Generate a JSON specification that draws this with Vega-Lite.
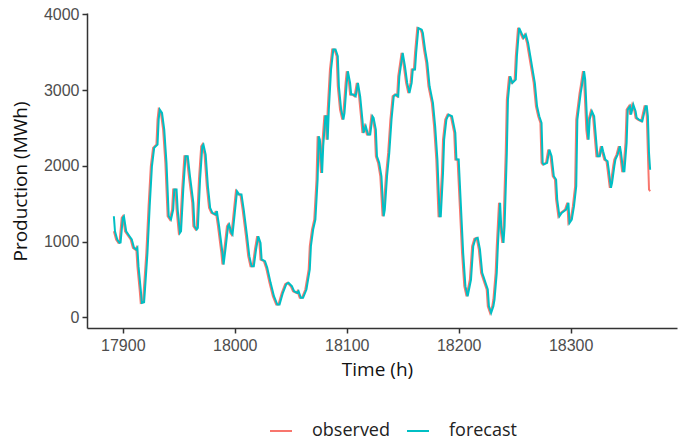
{
  "$schema": "https://vega.github.io/schema/vega-lite/v6.json",
  "width": 590,
  "height": 315,
  "autosize": {"type": "none"},
  "padding": {"left": 87, "top": 13, "right": 4, "bottom": 117},
  "background": "white",
  "config": {
    "view": {"stroke": null},
    "axis": {
      "grid": false,
      "domainColor": "#333333",
      "domainWidth": 1.5,
      "tickColor": "#333333",
      "tickWidth": 1.5,
      "tickSize": 5,
      "labelColor": "#4d4d4d",
      "labelFont": "Liberation Sans",
      "labelFontSize": 16,
      "titleFont": "Open Sans",
      "titleFontSize": 19,
      "titleFontWeight": "normal",
      "titleColor": "#111111"
    }
  },
  "datasets": {
    "obs": [
      {"h":17892,"v":1138},{"h":17894,"v":1029},{"h":17896,"v":985},{"h":17897,"v":990},{"h":17899,"v":1315},{"h":17900,"v":1336},{"h":17902,"v":1138},{"h":17905,"v":1072},{"h":17907,"v":1029},{"h":17909,"v":919},{"h":17911,"v":897},{"h":17912,"v":919},{"h":17913,"v":677},{"h":17915,"v":369},{"h":17916,"v":193},{"h":17918,"v":202},{"h":17919,"v":413},{"h":17921,"v":853},{"h":17923,"v":1469},{"h":17925,"v":1996},{"h":17927,"v":2239},{"h":17930,"v":2282},{"h":17931,"v":2612},{"h":17932,"v":2744},{"h":17934,"v":2700},{"h":17936,"v":2480},{"h":17938,"v":2041},{"h":17940,"v":1336},{"h":17942,"v":1293},{"h":17944,"v":1425},{"h":17945,"v":1689},{"h":17947,"v":1689},{"h":17948,"v":1425},{"h":17950,"v":1117},{"h":17951,"v":1138},{"h":17953,"v":1689},{"h":17955,"v":2128},{"h":17957,"v":2128},{"h":17959,"v":1864},{"h":17962,"v":1513},{"h":17963,"v":1204},{"h":17965,"v":1161},{"h":17966,"v":1183},{"h":17968,"v":1821},{"h":17970,"v":2260},{"h":17971,"v":2282},{"h":17973,"v":2150},{"h":17975,"v":1732},{"h":17977,"v":1447},{"h":17979,"v":1381},{"h":17982,"v":1359},{"h":17983,"v":1403},{"h":17985,"v":1204},{"h":17988,"v":853},{"h":17989,"v":699},{"h":17991,"v":941},{"h":17993,"v":1204},{"h":17994,"v":1227},{"h":17996,"v":1117},{"h":17997,"v":1095},{"h":17999,"v":1381},{"h":18001,"v":1666},{"h":18002,"v":1645},{"h":18003,"v":1623},{"h":18005,"v":1623},{"h":18007,"v":1425},{"h":18010,"v":1072},{"h":18012,"v":809},{"h":18014,"v":677},{"h":18016,"v":677},{"h":18018,"v":897},{"h":18020,"v":1072},{"h":18022,"v":985},{"h":18023,"v":765},{"h":18026,"v":743},{"h":18028,"v":655},{"h":18031,"v":457},{"h":18034,"v":281},{"h":18037,"v":171},{"h":18039,"v":171},{"h":18042,"v":325},{"h":18045,"v":440},{"h":18047,"v":457},{"h":18050,"v":413},{"h":18052,"v":347},{"h":18055,"v":325},{"h":18056,"v":347},{"h":18058,"v":259},{"h":18060,"v":259},{"h":18063,"v":369},{"h":18066,"v":633},{"h":18067,"v":941},{"h":18069,"v":1161},{"h":18071,"v":1293},{"h":18073,"v":1821},{"h":18074,"v":2392},{"h":18075,"v":2348},{"h":18077,"v":1909},{"h":18078,"v":2260},{"h":18080,"v":2656},{"h":18081,"v":2656},{"h":18082,"v":2348},{"h":18083,"v":2744},{"h":18085,"v":3272},{"h":18087,"v":3536},{"h":18089,"v":3536},{"h":18091,"v":3448},{"h":18092,"v":3052},{"h":18094,"v":2744},{"h":18096,"v":2612},{"h":18097,"v":2700},{"h":18099,"v":3096},{"h":18100,"v":3250},{"h":18102,"v":3096},{"h":18103,"v":2942},{"h":18105,"v":2942},{"h":18107,"v":2920},{"h":18109,"v":3096},{"h":18111,"v":2920},{"h":18113,"v":2612},{"h":18114,"v":2436},{"h":18116,"v":2524},{"h":18118,"v":2414},{"h":18120,"v":2414},{"h":18122,"v":2656},{"h":18123,"v":2634},{"h":18125,"v":2480},{"h":18126,"v":2128},{"h":18128,"v":2041},{"h":18130,"v":1864},{"h":18132,"v":1336},{"h":18133,"v":1425},{"h":18135,"v":1864},{"h":18137,"v":2172},{"h":18139,"v":2612},{"h":18141,"v":2920},{"h":18143,"v":2942},{"h":18145,"v":2920},{"h":18146,"v":3184},{"h":18149,"v":3492},{"h":18151,"v":3316},{"h":18153,"v":3096},{"h":18155,"v":2964},{"h":18157,"v":3096},{"h":18158,"v":3272},{"h":18160,"v":3272},{"h":18161,"v":3492},{"h":18163,"v":3822},{"h":18166,"v":3800},{"h":18167,"v":3756},{"h":18169,"v":3536},{"h":18171,"v":3360},{"h":18173,"v":3052},{"h":18176,"v":2832},{"h":18178,"v":2524},{"h":18180,"v":2084},{"h":18182,"v":1336},{"h":18183,"v":1336},{"h":18185,"v":1909},{"h":18186,"v":2348},{"h":18188,"v":2612},{"h":18190,"v":2678},{"h":18193,"v":2656},{"h":18196,"v":2436},{"h":18197,"v":2084},{"h":18199,"v":2084},{"h":18201,"v":1469},{"h":18203,"v":853},{"h":18205,"v":413},{"h":18207,"v":281},{"h":18210,"v":501},{"h":18212,"v":941},{"h":18214,"v":1040},{"h":18216,"v":1051},{"h":18218,"v":897},{"h":18220,"v":589},{"h":18221,"v":545},{"h":18223,"v":457},{"h":18225,"v":369},{"h":18226,"v":149},{"h":18228,"v":62},{"h":18230,"v":149},{"h":18231,"v":237},{"h":18233,"v":589},{"h":18234,"v":941},{"h":18236,"v":1513},{"h":18237,"v":1204},{"h":18239,"v":985},{"h":18240,"v":1204},{"h":18242,"v":2172},{"h":18243,"v":2876},{"h":18245,"v":3184},{"h":18247,"v":3096},{"h":18250,"v":3140},{"h":18251,"v":3448},{"h":18253,"v":3822},{"h":18255,"v":3756},{"h":18257,"v":3690},{"h":18259,"v":3734},{"h":18261,"v":3624},{"h":18263,"v":3448},{"h":18265,"v":3272},{"h":18267,"v":3096},{"h":18269,"v":2788},{"h":18271,"v":2656},{"h":18273,"v":2568},{"h":18274,"v":2041},{"h":18275,"v":2019},{"h":18278,"v":2041},{"h":18280,"v":2216},{"h":18282,"v":2128},{"h":18284,"v":1864},{"h":18286,"v":1821},{"h":18287,"v":1557},{"h":18289,"v":1336},{"h":18291,"v":1381},{"h":18293,"v":1403},{"h":18295,"v":1425},{"h":18297,"v":1513},{"h":18298,"v":1249},{"h":18300,"v":1293},{"h":18302,"v":1469},{"h":18304,"v":1732},{"h":18305,"v":2612},{"h":18308,"v":2964},{"h":18309,"v":3052},{"h":18311,"v":3250},{"h":18312,"v":3140},{"h":18314,"v":2480},{"h":18315,"v":2348},{"h":18316,"v":2612},{"h":18318,"v":2722},{"h":18320,"v":2656},{"h":18321,"v":2480},{"h":18323,"v":2128},{"h":18325,"v":2128},{"h":18327,"v":2260},{"h":18328,"v":2194},{"h":18330,"v":2084},{"h":18332,"v":2062},{"h":18333,"v":1953},{"h":18335,"v":1711},{"h":18336,"v":1777},{"h":18338,"v":1996},{"h":18339,"v":2084},{"h":18341,"v":2150},{"h":18343,"v":2260},{"h":18344,"v":2172},{"h":18346,"v":1930},{"h":18347,"v":1930},{"h":18349,"v":2304},{"h":18350,"v":2744},{"h":18352,"v":2788},{"h":18353,"v":2678},{"h":18355,"v":2810},{"h":18357,"v":2722},{"h":18358,"v":2634},{"h":18360,"v":2612},{"h":18363,"v":2590},{"h":18366,"v":2788},{"h":18367,"v":2788},{"h":18368,"v":2656},{"h":18369,"v":2172},{"h":18370,"v":1689},{"h":18371,"v":1666}
    ],
    "fc": [
      {"h":17892,"v":1336},{"h":17893,"v":1138},{"h":17895,"v":1029},{"h":17897,"v":985},{"h":17898,"v":990},{"h":17900,"v":1315},{"h":17901,"v":1336},{"h":17903,"v":1138},{"h":17906,"v":1072},{"h":17908,"v":1029},{"h":17910,"v":919},{"h":17912,"v":897},{"h":17913,"v":919},{"h":17914,"v":677},{"h":17916,"v":369},{"h":17917,"v":193},{"h":17919,"v":202},{"h":17920,"v":413},{"h":17922,"v":853},{"h":17924,"v":1469},{"h":17926,"v":1996},{"h":17928,"v":2239},{"h":17931,"v":2282},{"h":17932,"v":2612},{"h":17933,"v":2744},{"h":17935,"v":2700},{"h":17937,"v":2480},{"h":17939,"v":2041},{"h":17941,"v":1336},{"h":17943,"v":1293},{"h":17945,"v":1425},{"h":17946,"v":1689},{"h":17948,"v":1689},{"h":17949,"v":1425},{"h":17951,"v":1117},{"h":17952,"v":1138},{"h":17954,"v":1689},{"h":17956,"v":2128},{"h":17958,"v":2128},{"h":17960,"v":1864},{"h":17963,"v":1513},{"h":17964,"v":1204},{"h":17966,"v":1161},{"h":17967,"v":1183},{"h":17969,"v":1821},{"h":17971,"v":2260},{"h":17972,"v":2282},{"h":17974,"v":2150},{"h":17976,"v":1732},{"h":17978,"v":1447},{"h":17980,"v":1381},{"h":17983,"v":1359},{"h":17984,"v":1403},{"h":17986,"v":1204},{"h":17989,"v":853},{"h":17990,"v":699},{"h":17992,"v":941},{"h":17994,"v":1204},{"h":17995,"v":1227},{"h":17997,"v":1117},{"h":17998,"v":1095},{"h":18000,"v":1381},{"h":18002,"v":1666},{"h":18003,"v":1645},{"h":18004,"v":1623},{"h":18006,"v":1623},{"h":18008,"v":1425},{"h":18011,"v":1072},{"h":18013,"v":809},{"h":18015,"v":677},{"h":18017,"v":677},{"h":18019,"v":897},{"h":18021,"v":1072},{"h":18023,"v":985},{"h":18024,"v":765},{"h":18027,"v":743},{"h":18029,"v":655},{"h":18032,"v":457},{"h":18035,"v":281},{"h":18038,"v":171},{"h":18040,"v":171},{"h":18043,"v":325},{"h":18046,"v":440},{"h":18048,"v":457},{"h":18051,"v":413},{"h":18053,"v":347},{"h":18056,"v":325},{"h":18057,"v":347},{"h":18059,"v":259},{"h":18061,"v":259},{"h":18064,"v":369},{"h":18067,"v":633},{"h":18068,"v":941},{"h":18070,"v":1161},{"h":18072,"v":1293},{"h":18074,"v":1821},{"h":18075,"v":2392},{"h":18076,"v":2348},{"h":18078,"v":1909},{"h":18079,"v":2260},{"h":18081,"v":2656},{"h":18082,"v":2656},{"h":18083,"v":2348},{"h":18084,"v":2744},{"h":18086,"v":3272},{"h":18088,"v":3536},{"h":18090,"v":3536},{"h":18092,"v":3448},{"h":18093,"v":3052},{"h":18095,"v":2744},{"h":18097,"v":2612},{"h":18098,"v":2700},{"h":18100,"v":3096},{"h":18101,"v":3250},{"h":18103,"v":3096},{"h":18104,"v":2942},{"h":18106,"v":2942},{"h":18108,"v":2920},{"h":18110,"v":3096},{"h":18112,"v":2920},{"h":18114,"v":2612},{"h":18115,"v":2436},{"h":18117,"v":2524},{"h":18119,"v":2414},{"h":18121,"v":2414},{"h":18123,"v":2656},{"h":18124,"v":2634},{"h":18126,"v":2480},{"h":18127,"v":2128},{"h":18129,"v":2041},{"h":18131,"v":1864},{"h":18133,"v":1336},{"h":18134,"v":1425},{"h":18136,"v":1864},{"h":18138,"v":2172},{"h":18140,"v":2612},{"h":18142,"v":2920},{"h":18144,"v":2942},{"h":18146,"v":2920},{"h":18147,"v":3184},{"h":18150,"v":3492},{"h":18152,"v":3316},{"h":18154,"v":3096},{"h":18156,"v":2964},{"h":18158,"v":3096},{"h":18159,"v":3272},{"h":18161,"v":3272},{"h":18162,"v":3492},{"h":18164,"v":3822},{"h":18167,"v":3800},{"h":18168,"v":3756},{"h":18170,"v":3536},{"h":18172,"v":3360},{"h":18174,"v":3052},{"h":18177,"v":2832},{"h":18179,"v":2524},{"h":18181,"v":2084},{"h":18183,"v":1336},{"h":18184,"v":1336},{"h":18186,"v":1909},{"h":18187,"v":2348},{"h":18189,"v":2612},{"h":18191,"v":2678},{"h":18194,"v":2656},{"h":18197,"v":2436},{"h":18198,"v":2084},{"h":18200,"v":2084},{"h":18202,"v":1469},{"h":18204,"v":853},{"h":18206,"v":413},{"h":18208,"v":281},{"h":18211,"v":501},{"h":18213,"v":941},{"h":18215,"v":1040},{"h":18217,"v":1051},{"h":18219,"v":897},{"h":18221,"v":589},{"h":18222,"v":545},{"h":18224,"v":457},{"h":18226,"v":369},{"h":18227,"v":149},{"h":18229,"v":62},{"h":18231,"v":149},{"h":18232,"v":237},{"h":18234,"v":589},{"h":18235,"v":941},{"h":18237,"v":1513},{"h":18238,"v":1204},{"h":18240,"v":985},{"h":18241,"v":1204},{"h":18243,"v":2172},{"h":18244,"v":2876},{"h":18246,"v":3184},{"h":18248,"v":3096},{"h":18251,"v":3140},{"h":18252,"v":3448},{"h":18254,"v":3822},{"h":18256,"v":3756},{"h":18258,"v":3690},{"h":18260,"v":3734},{"h":18262,"v":3624},{"h":18264,"v":3448},{"h":18266,"v":3272},{"h":18268,"v":3096},{"h":18270,"v":2788},{"h":18272,"v":2656},{"h":18274,"v":2568},{"h":18275,"v":2041},{"h":18276,"v":2019},{"h":18279,"v":2041},{"h":18281,"v":2216},{"h":18283,"v":2128},{"h":18285,"v":1864},{"h":18287,"v":1821},{"h":18288,"v":1557},{"h":18290,"v":1336},{"h":18292,"v":1381},{"h":18294,"v":1403},{"h":18296,"v":1425},{"h":18298,"v":1513},{"h":18299,"v":1249},{"h":18301,"v":1293},{"h":18303,"v":1469},{"h":18305,"v":1732},{"h":18306,"v":2612},{"h":18309,"v":2964},{"h":18310,"v":3052},{"h":18312,"v":3250},{"h":18313,"v":3140},{"h":18315,"v":2480},{"h":18316,"v":2348},{"h":18317,"v":2612},{"h":18319,"v":2722},{"h":18321,"v":2656},{"h":18322,"v":2480},{"h":18324,"v":2128},{"h":18326,"v":2128},{"h":18328,"v":2260},{"h":18329,"v":2194},{"h":18331,"v":2084},{"h":18333,"v":2062},{"h":18334,"v":1953},{"h":18336,"v":1711},{"h":18337,"v":1777},{"h":18339,"v":1996},{"h":18340,"v":2084},{"h":18342,"v":2150},{"h":18344,"v":2260},{"h":18345,"v":2172},{"h":18347,"v":1930},{"h":18348,"v":1930},{"h":18350,"v":2304},{"h":18351,"v":2744},{"h":18353,"v":2788},{"h":18354,"v":2678},{"h":18356,"v":2810},{"h":18358,"v":2722},{"h":18359,"v":2634},{"h":18361,"v":2612},{"h":18364,"v":2590},{"h":18367,"v":2788},{"h":18368,"v":2788},{"h":18369,"v":2656},{"h":18370,"v":2172},{"h":18371,"v":1950}
    ]
  },
  "encoding": {
    "x": {
      "field": "h",
      "type": "quantitative",
      "scale": {"domain": [17868, 18395], "nice": false, "zero": false},
      "axis": {"values": [17900, 18000, 18100, 18200, 18300], "format": "d", "title": "Time (h)", "labelPadding": 4, "titlePadding": 7, "titleX": 290}
    },
    "y": {
      "field": "v",
      "type": "quantitative",
      "scale": {"domain": [-139, 4019], "nice": false, "zero": false},
      "axis": {"values": [0, 1000, 2000, 3000, 4000], "format": "d", "title": "Production (MWh)", "labelPadding": 3, "titlePadding": 13, "titleY": 168}
    }
  },
  "layer": [
    {
      "data": {"name": "obs"},
      "mark": {"type": "line", "strokeWidth": 2, "clip": true},
      "encoding": {
        "color": {
          "datum": "observed",
          "type": "nominal",
          "scale": {"domain": ["observed", "forecast"], "range": ["#F8766D", "#00BFC4"]},
          "legend": {
            "orient": "none",
            "legendX": 182,
            "legendY": 406,
            "direction": "horizontal",
            "title": null,
            "symbolType": "stroke",
            "symbolStrokeWidth": 2,
            "symbolSize": 484,
            "labelFont": "Open Sans",
            "labelFontSize": 18,
            "labelColor": "#222222",
            "labelOffset": 19,
            "columnPadding": 13
          }
        }
      }
    },
    {
      "data": {"name": "fc"},
      "mark": {"type": "line", "strokeWidth": 2, "clip": true},
      "encoding": {
        "color": {"datum": "forecast", "type": "nominal"}
      }
    }
  ]
}
